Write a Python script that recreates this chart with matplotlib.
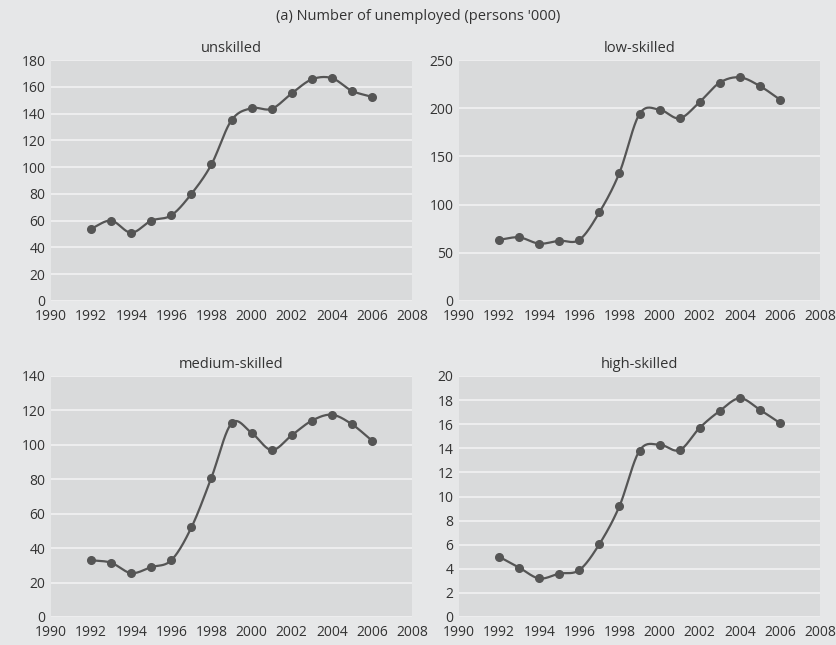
import numpy as np
import matplotlib
matplotlib.use("Agg")
import matplotlib.pyplot as plt

years = list(range(1992, 2007))
unskilled = [54, 60, 51, 60, 64, 80, 102, 135, 144, 143.5, 155, 165.5, 166.5, 157, 152.5]
low_skilled = [63.5, 66, 59.5, 62.5, 63.5, 92, 133, 194, 198.5, 189.5, 206.5, 226.5, 232, 223, 209]
medium_skilled = [33, 31.5, 25.5, 29, 33, 52, 81, 112.5, 107, 97, 105.5, 114, 117.5, 112, 102.5]
high_skilled = [5.0, 4.1, 3.2, 3.6, 3.9, 6.05, 9.2, 13.8, 14.3, 13.85, 15.7, 17.1, 18.15, 17.2, 16.1]

panels = [
    ("unskilled", unskilled, 180, 20),
    ("low-skilled", low_skilled, 250, 50),
    ("medium-skilled", medium_skilled, 140, 20),
    ("high-skilled", high_skilled, 20, 2),
]
xticks = list(range(1990, 2009, 2))

plt.rcParams['font.family'] = ['Open Sans', 'DejaVu Sans']

def smooth(x, y, n=20):
    # Catmull-Rom style smoothing for display (Excel-like smoothed line)
    x = np.asarray(x, float); y = np.asarray(y, float)
    px = np.concatenate([[2*x[0]-x[1]], x, [2*x[-1]-x[-2]]])
    py = np.concatenate([[2*y[0]-y[1]], y, [2*y[-1]-y[-2]]])
    xs, ys = [], []
    for i in range(1, len(px)-2):
        t = np.linspace(0, 1, n, endpoint=False)
        for arr, out in ((px, xs), (py, ys)):
            p0, p1, p2, p3 = arr[i-1], arr[i], arr[i+1], arr[i+2]
            out.extend(0.5*((2*p1) + (-p0+p2)*t + (2*p0-5*p1+4*p2-p3)*t**2 + (-p0+3*p1-3*p2+p3)*t**3))
    xs.append(x[-1]); ys.append(y[-1])
    return np.array(xs), np.array(ys)

W, H = 836, 645
fig = plt.figure(figsize=(W/100, H/100), dpi=100)
bg = '#e6e7e8'
fig.patch.set_facecolor(bg)

rects = [(51, 60, 412, 301), (459, 60, 820, 301), (51, 376, 412, 617), (459, 376, 820, 617)]
txt = '#333333'
for (name, vals, ymax, step), (x0, y0, x1, y1) in zip(panels, rects):
    ax = fig.add_axes([x0/W, 1-y1/H, (x1-x0)/W, (y1-y0)/H])
    ax.set_facecolor('#d9dadb')
    for s in ax.spines.values():
        s.set_visible(False)
    ax.set_xlim(1990, 2008)
    ax.set_ylim(0, ymax)
    ax.set_yticks(np.arange(0, ymax + step/2, step))
    ax.set_xticks(xticks)
    ax.yaxis.grid(True, color='#f2f2f2', linewidth=1.2)
    ax.set_axisbelow(True)
    ax.tick_params(length=0, labelsize=10, colors=txt)
    ax.tick_params(axis='x', pad=6)
    ax.tick_params(axis='y', pad=4)
    sx, sy = smooth(years, vals)
    ax.plot(sx, sy, color='#555555', linewidth=1.6, zorder=3)
    ax.plot(years, vals, 'o', color='#555555', markersize=5.5, zorder=4)
    ax.set_title(name, fontsize=10.5, color=txt, pad=6)

fig.text(0.5, 1-17/H, "(a) Number of unemployed (persons '000)", ha='center', va='center', fontsize=10.5, color=txt)
fig.savefig('out.png', dpi=100, facecolor=bg)
